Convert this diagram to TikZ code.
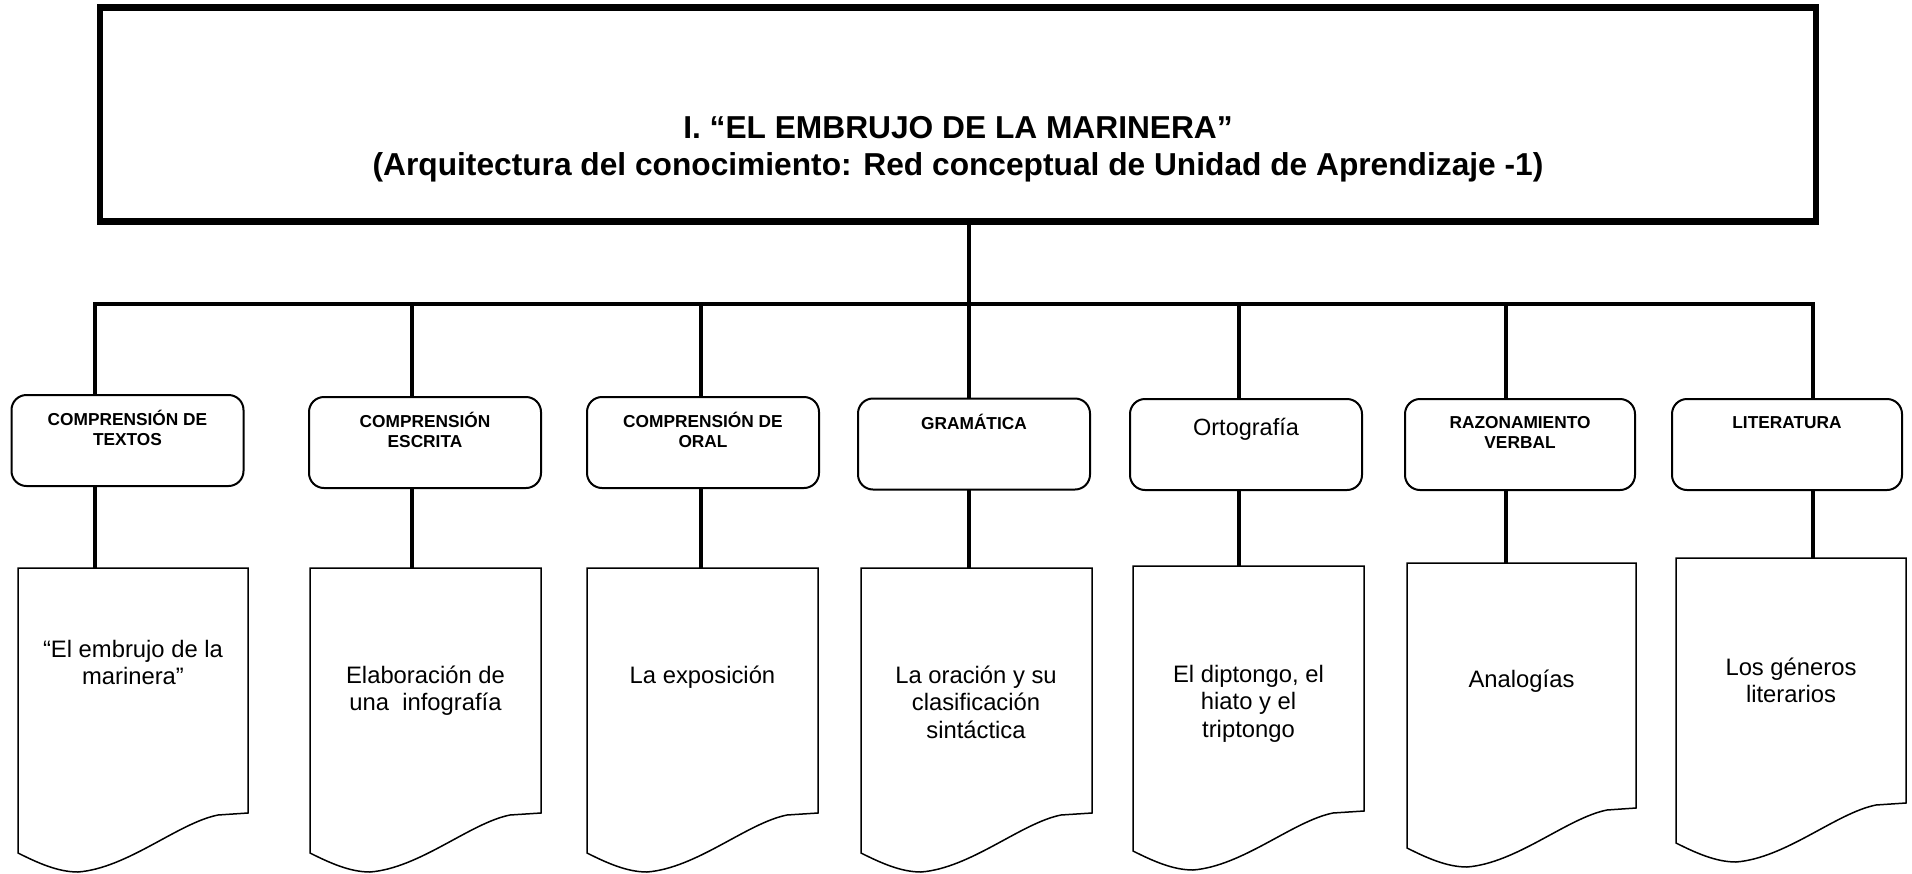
\documentclass[tikz,border=0pt]{standalone}
\usepackage{fontspec}
\setmainfont{Liberation Sans}
\usetikzlibrary{backgrounds}
\newcommand\mlines[1]{\begin{tabular}[t]{@{}c@{}}#1\end{tabular}}
\newcommand\docshape[3]{%
  \path[docline] (#1,#3) -- (#2,#3) -- (#2,{#3+245}) -- ({#1+200},{#3+247})
    .. controls ({#1+160},{#3+255}) and ({#1+110},{#3+300}) .. ({#1+60},{#3+304})
    .. controls ({#1+40},{#3+304}) and ({#1+20},{#3+295}) .. (#1,{#3+285}) -- cycle;}
\tikzset{
  conn/.style={line width=4pt, line cap=rect},
  catbox/.style={draw, line width=2pt, rounded corners=15pt, fill=white,
    minimum width=232pt, minimum height=91pt, inner sep=0pt, outer sep=0pt},
  docline/.style={draw, line width=1.5pt, fill=white, line join=miter},
  headbox/.style={draw, line width=6.5pt, minimum width=1716pt, minimum height=214pt,
    inner sep=0pt, outer sep=0pt},
  cattext/.style={anchor=base, inner sep=0pt, font=\fontsize{17.3}{20}\selectfont\bfseries},
  orttext/.style={anchor=base, inner sep=0pt, font=\fontsize{23.5}{27}\selectfont},
  doctext/.style={anchor=base, inner sep=0pt, font=\fontsize{23.8}{27.5}\selectfont},
  headtext/.style={anchor=base, inner sep=0pt, font=\fontsize{31.7}{37}\selectfont\bfseries},
}
\begin{document}
\begin{tikzpicture}[x=1pt,y=-1pt]
\useasboundingbox (0,0) rectangle (1912,873);
% header
\node (head) [headbox] at (958,114.5) {};
\node (title) [headtext] at (958,138) {I. “EL EMBRUJO DE LA MARINERA”};
\node (subtitle) [headtext] at (958,175) {(Arquitectura del conocimiento: Red conceptual de Unidad de Aprendizaje -1)};
% bus coordinates
\coordinate (b1) at (95,303.5);
\coordinate (b2) at (412,303.5);
\coordinate (b3) at (701,303.5);
\coordinate (b4) at (969,303.5);
\coordinate (b5) at (1239,303.5);
\coordinate (b6) at (1506,303.5);
\coordinate (b7) at (1813,303.5);
% document top coordinates
\coordinate (t1) at (95,571);
\coordinate (t2) at (412,571);
\coordinate (t3) at (701,571);
\coordinate (t4) at (969,571);
\coordinate (t5) at (1239,569);
\coordinate (t6) at (1506,566);
\coordinate (t7) at (1813,561);
% category boxes
\node (cat1) [catbox] at (127.5,440.5) {};
\node (cat2) [catbox] at (425,442.5) {};
\node (cat3) [catbox] at (703,442.5) {};
\node (cat4) [catbox] at (974,444) {};
\node (cat5) [catbox] at (1246,444.5) {};
\node (cat6) [catbox, minimum width=230pt] at (1520,444.5) {};
\node (cat7) [catbox, minimum width=230pt] at (1787,444.5) {};
% category labels
\node (lab1) [cattext] at (127.5,425) {\mlines{COMPRENSIÓN DE\\TEXTOS}};
\node (lab2) [cattext] at (425,427) {\mlines{COMPRENSIÓN\\ESCRITA}};
\node (lab3) [cattext] at (703,427) {\mlines{COMPRENSIÓN DE\\ORAL}};
\node (lab4) [cattext] at (974,429) {GRAMÁTICA};
\node (lab5) [orttext] at (1246,435) {Ortografía};
\node (lab6) [cattext] at (1520,428) {\mlines{RAZONAMIENTO\\VERBAL}};
\node (lab7) [cattext] at (1787,428) {LITERATURA};
% documents
\docshape{18}{248}{568}
\docshape{310}{541}{568}
\docshape{587}{818}{568}
\docshape{861}{1092}{568}
\docshape{1133}{1364}{566}
\docshape{1407}{1636}{563}
\docshape{1676}{1906}{558}
% document texts
\node (doc1) [doctext] at (133,657) {\mlines{“El embrujo de la\\marinera”}};
\node (doc2) [doctext] at (425.5,683) {\mlines{Elaboración de\\una\ \ infografía}};
\node (doc3) [doctext] at (702.5,683) {La exposición};
\node (doc4) [doctext] at (976,683) {\mlines{La oración y su\\clasificación\\sintáctica}};
\node (doc5) [doctext] at (1248.5,682) {\mlines{El diptongo, el\\hiato y el\\triptongo}};
\node (doc6) [doctext] at (1521.5,687) {Analogías};
\node (doc7) [doctext] at (1791,675) {\mlines{Los géneros\\literarios}};
% connectors behind the shapes
\begin{pgfonlayer}{background}
\draw[conn] (head.south -| b4) -- (b4);
\draw[conn] (b1) -- (b7);
\foreach \i in {1,...,7}{
  \draw[conn] (b\i) -- (b\i |- cat\i.north);
  \draw[conn] (cat\i.south -| b\i) -- (t\i);
}
\end{pgfonlayer}
\end{tikzpicture}
\end{document}
